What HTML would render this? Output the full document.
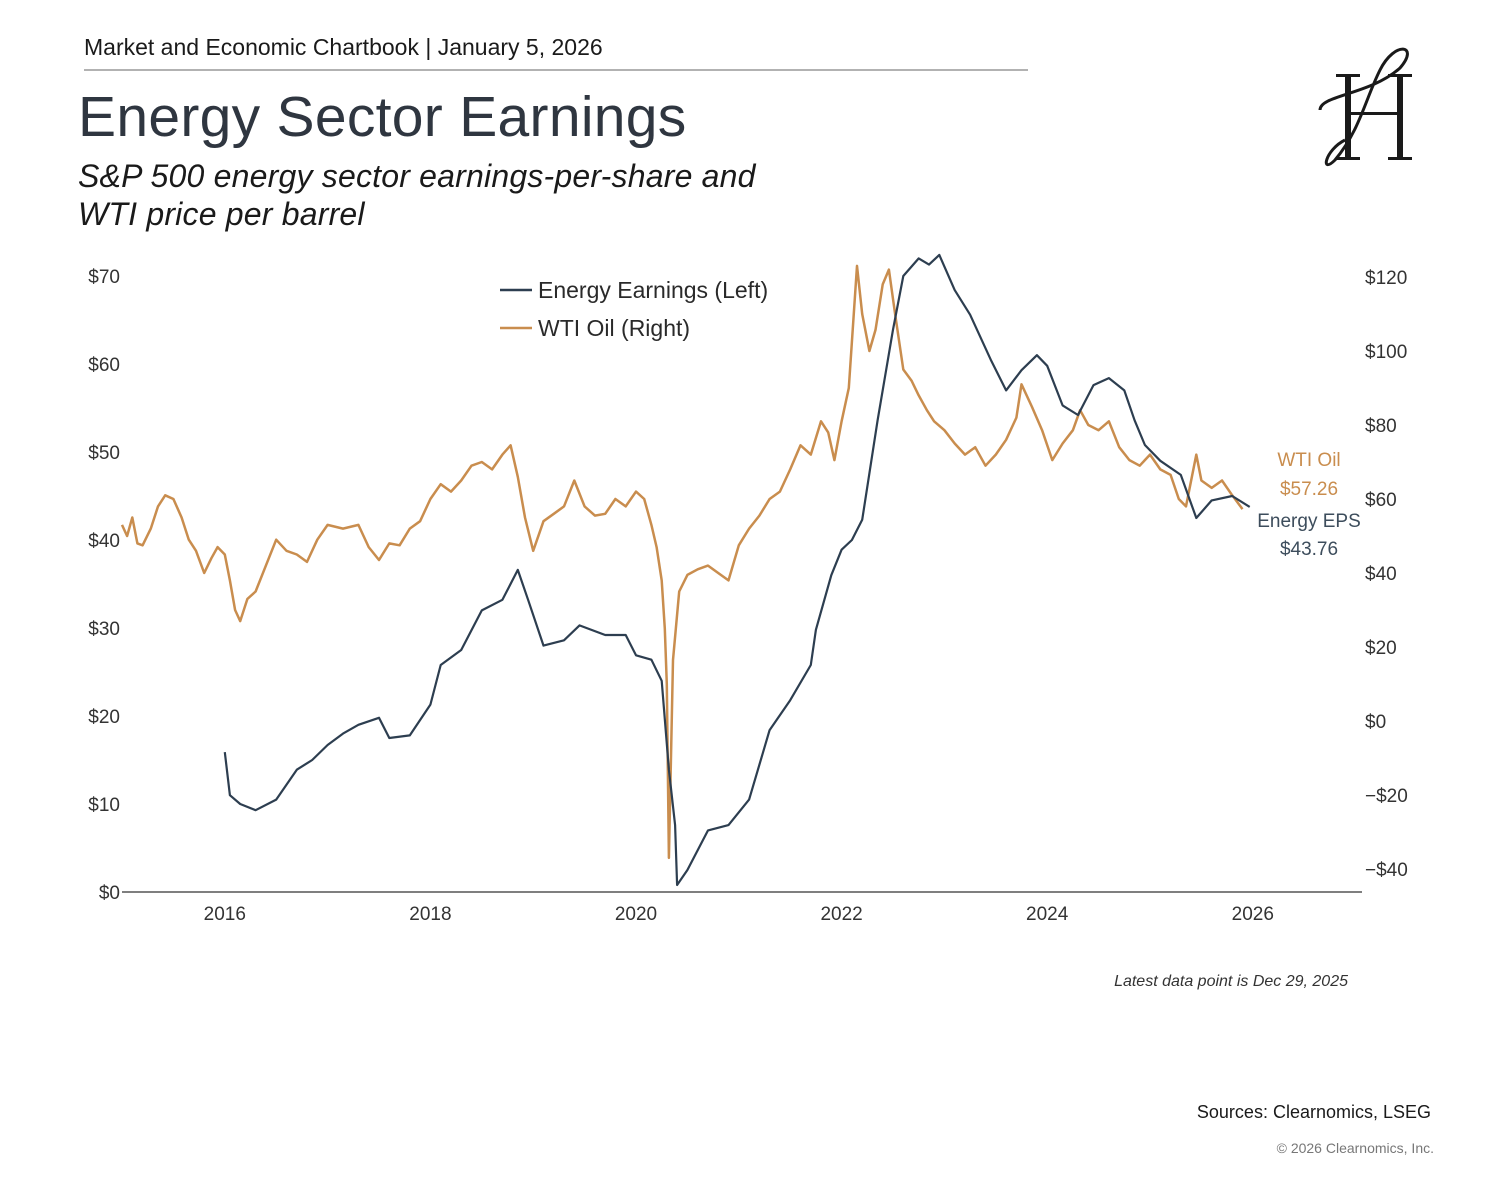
<!DOCTYPE html>
<html><head><meta charset="utf-8"><style>
body{margin:0;background:#fff;width:1486px;height:1192px;overflow:hidden;font-family:"Liberation Sans",sans-serif;}
svg text{font-family:"Liberation Sans",sans-serif;}
</style></head><body>
<svg id="c" width="1486" height="1192">
<text x="84" y="55" font-size="23" fill="#1a1a1a">Market and Economic Chartbook | January 5, 2026</text>
<line x1="84" y1="70" x2="1028" y2="70" stroke="#999" stroke-width="1.5"/>
<text x="78" y="136" font-size="57" fill="#2f3640" letter-spacing="0.3">Energy Sector Earnings</text>
<text x="78" y="187" font-size="32" font-style="italic" fill="#1a1a1a" letter-spacing="0.2">S&amp;P 500 energy sector earnings-per-share and</text>
<text x="78" y="225" font-size="32" font-style="italic" fill="#1a1a1a" letter-spacing="0.2">WTI price per barrel</text>
<g fill="#1a1a1a">
<rect x="1345" y="75" width="6" height="84"/><rect x="1336" y="74" width="24" height="3"/><rect x="1336" y="157" width="24" height="3"/>
<rect x="1397" y="75" width="6" height="84"/><rect x="1388" y="74" width="24" height="3"/><rect x="1388" y="157" width="24" height="3"/>
<rect x="1350" y="112" width="48" height="3"/>
<path d="M1320 110 C1320 95 1370 95 1400 68 C1420 45 1395 40 1380 70 C1365 100 1360 130 1335 160 C1320 175 1325 150 1345 140" fill="none" stroke="#1a1a1a" stroke-width="3"/>
</g>
<g id="axes"></g>
<g id="series"></g>
<g>
<line x1="500" y1="290" x2="532" y2="290" stroke="#2d3e50" stroke-width="2.5"/>
<text x="538" y="298" font-size="23" fill="#2a2a2a">Energy Earnings (Left)</text>
<line x1="500" y1="328" x2="532" y2="328" stroke="#c98d4e" stroke-width="2.5"/>
<text x="538" y="336" font-size="23" fill="#2a2a2a">WTI Oil (Right)</text>
</g>
<text x="1309" y="466" font-size="19" fill="#c98d4e" text-anchor="middle">WTI Oil</text>
<text x="1309" y="495" font-size="19" fill="#c98d4e" text-anchor="middle">$57.26</text>
<text x="1309" y="527" font-size="19" fill="#3d4d5c" text-anchor="middle">Energy EPS</text>
<text x="1309" y="555" font-size="19" fill="#3d4d5c" text-anchor="middle">$43.76</text>
<text x="1348" y="986" font-size="16" font-style="italic" fill="#333" text-anchor="end">Latest data point is Dec 29, 2025</text>
<text x="1431" y="1118" font-size="18" fill="#1a1a1a" text-anchor="end">Sources: Clearnomics, LSEG</text>
<text x="1434" y="1153" font-size="14" fill="#777" text-anchor="end">© 2026 Clearnomics, Inc.</text>
</svg>
<script>
const xTicks=[2016,2018,2020,2022,2024,2026];
const leftTicks=[0,10,20,30,40,50,60,70];
const rightTicks=[-40,-20,0,20,40,60,80,100,120];
const oilDates=[2015.0,2015.05,2015.1,2015.15,2015.2,2015.28,2015.35,2015.42,2015.5,2015.58,2015.65,2015.72,2015.8,2015.87,2015.93,2016.0,2016.05,2016.1,2016.15,2016.22,2016.3,2016.4,2016.5,2016.6,2016.7,2016.8,2016.9,2017.0,2017.15,2017.3,2017.4,2017.5,2017.6,2017.7,2017.8,2017.9,2018.0,2018.1,2018.2,2018.3,2018.4,2018.5,2018.6,2018.7,2018.78,2018.85,2018.92,2019.0,2019.1,2019.2,2019.3,2019.4,2019.5,2019.6,2019.7,2019.8,2019.9,2020.0,2020.08,2020.15,2020.2,2020.25,2020.28,2020.3,2020.32,2020.36,2020.42,2020.5,2020.6,2020.7,2020.8,2020.9,2021.0,2021.1,2021.2,2021.3,2021.4,2021.5,2021.6,2021.7,2021.8,2021.87,2021.93,2022.0,2022.07,2022.15,2022.2,2022.27,2022.33,2022.4,2022.46,2022.52,2022.6,2022.68,2022.75,2022.83,2022.9,2023.0,2023.1,2023.2,2023.3,2023.4,2023.5,2023.6,2023.7,2023.75,2023.85,2023.95,2024.05,2024.15,2024.25,2024.32,2024.4,2024.5,2024.6,2024.7,2024.8,2024.9,2025.0,2025.1,2025.2,2025.28,2025.35,2025.45,2025.5,2025.6,2025.7,2025.8,2025.9,2025.97];
const oilValues=[53,50,55,48,47.5,52,58,61,60,55,49,46,40,44,47,45,38,30,27,33,35,42,49,46,45,43,49,53,52,53,47,43.5,48,47.5,52,54,60,64,62,65,69,70,68,72,74.5,66,55,46,54,56,58,65,58,55.5,56,60,58,62,60,53,47,38,25,10,-37,16.5,35,39.5,41,42,40,38,47.5,52,55.5,60,62,68,74.5,72,81,78,70.5,81,90,123,110,100,105.7,118,122,110,95,92,88,84,81,78.6,75,72,74,69,72,76,82,91,85,78.6,70.5,75,78.6,84,80,78.6,81,74,70.5,69,72,68,66.5,60,58,72,65,63,65,61,57.26];
const epsDates=[2016.0,2016.05,2016.15,2016.3,2016.5,2016.7,2016.85,2017.0,2017.15,2017.3,2017.5,2017.6,2017.8,2018.0,2018.1,2018.3,2018.5,2018.7,2018.85,2018.95,2019.1,2019.3,2019.45,2019.7,2019.9,2020.0,2020.15,2020.25,2020.32,2020.38,2020.4,2020.5,2020.7,2020.9,2021.1,2021.3,2021.5,2021.7,2021.75,2021.9,2022.0,2022.1,2022.2,2022.35,2022.5,2022.6,2022.75,2022.85,2022.95,2023.1,2023.25,2023.45,2023.6,2023.75,2023.9,2024.0,2024.15,2024.3,2024.45,2024.6,2024.75,2024.85,2024.95,2025.1,2025.3,2025.45,2025.6,2025.8,2025.97];
const epsValues=[15.9,11,10,9.3,10.5,13.9,15,16.7,18,19,19.8,17.5,17.8,21.3,25.8,27.5,32,33.2,36.6,33.2,28,28.6,30.3,29.2,29.2,26.9,26.4,24,13.9,7.6,0.8,2.5,7,7.6,10.5,18.4,21.8,25.8,29.8,36,38.9,40,42.3,53.6,63.9,70,72,71.3,72.4,68.4,65.6,60.5,57,59.3,61,59.8,55.3,54.2,57.6,58.4,57,53.6,50.8,49,47.4,42.5,44.5,45,43.76];
const X0=122,X1=1362,Y0=892;
const xs=d=>X0+(d-2015)*102.8;
const yl=v=>Y0-v*8.8;
const yr=v=>721-v*3.7;
const NS='http://www.w3.org/2000/svg';
const ax=document.getElementById('axes'),se=document.getElementById('series');
function mk(t,a,p){const e=document.createElementNS(NS,t);for(const k in a)e.setAttribute(k,a[k]);p.appendChild(e);return e;}
let l=mk('line',{x1:X0,y1:Y0,x2:X1,y2:Y0,stroke:'#555','stroke-width':1.5},ax);


xTicks.forEach(t=>{const e=mk('text',{x:xs(t),y:920,'font-size':19,fill:'#333','text-anchor':'middle'},ax);e.textContent=t;

});
leftTicks.forEach(t=>{const e=mk('text',{x:120,y:yl(t)+7,'font-size':19,fill:'#333','text-anchor':'end'},ax);e.textContent='$'+t;

});
rightTicks.forEach(t=>{const e=mk('text',{x:1365,y:yr(t)+7,'font-size':19,fill:'#333'},ax);e.textContent=(t<0?'\u2212$'+(-t):'$'+t);

});
let p1=mk('path',{d:oilDates.map((d,i)=>(i?'L':'M')+xs(d).toFixed(1)+' '+yr(oilValues[i]).toFixed(1)).join(''),fill:'none',stroke:'#c98d4e','stroke-width':2.5,'stroke-linejoin':'round'},se);


let p2=mk('path',{d:epsDates.map((d,i)=>(i?'L':'M')+xs(d).toFixed(1)+' '+yl(epsValues[i]).toFixed(1)).join(''),fill:'none',stroke:'#2d3e50','stroke-width':2.2,'stroke-linejoin':'round'},se);


</script>
</body></html>
